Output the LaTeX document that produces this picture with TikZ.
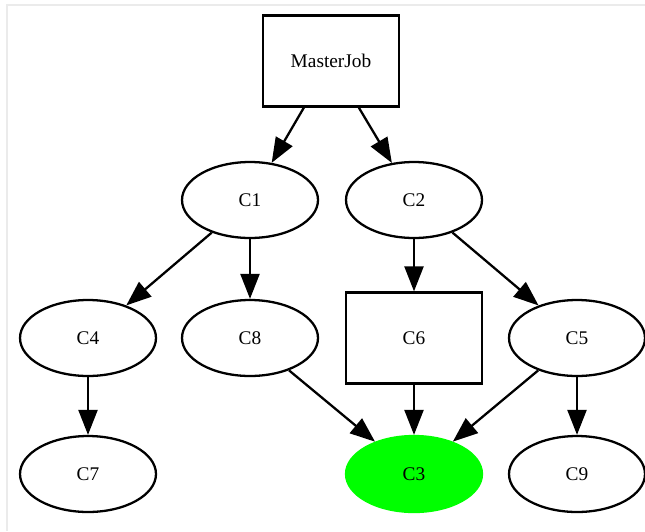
\documentclass[tikz,border=0pt]{standalone}
\usepackage{fontspec}
\setmainfont{Liberation Serif}
\usetikzlibrary{positioning,shapes.geometric,arrows.meta}

\begin{document}
\begin{tikzpicture}[x=0.02cm,y=-0.02cm,
  job/.style={draw,line width=1.3pt,ellipse,minimum width=2.72cm,minimum height=1.52cm,inner sep=0pt,font=\fontsize{11}{13}\selectfont},
  jobbox/.style={draw,line width=1.3pt,rectangle,minimum width=2.72cm,minimum height=1.82cm,inner sep=0pt,font=\fontsize{11}{13}\selectfont},
  dep/.style={line width=1.3pt,-{Triangle[length=0.5cm,width=0.38cm]}}]
\useasboundingbox (0,0) rectangle (645,531);
\draw[black!8,line width=1pt] (7,531)--(7,5)--(645,5);
\node[jobbox] (master) at (331,61) {MasterJob};
\node[job] (c1) at (250,200) {C1};
\node[job] (c2) at (414,200) {C2};
\node[job] (c4) at (88,338) {C4};
\node[job] (c8) at (250,338) {C8};
\node[jobbox] (c6) at (414,338) {C6};
\node[job] (c5) at (577,338) {C5};
\node[job] (c7) at (88,474) {C7};
\node[job,draw=green,fill=green] (c3) at (414,474) {C3};
\node[job] (c9) at (577,474) {C9};
\draw[dep] (master)--(c1);
\draw[dep] (master)--(c2);
\draw[dep] (c1)--(c4);
\draw[dep] (c1)--(c8);
\draw[dep] (c2)--(c6);
\draw[dep] (c2)--(c5);
\draw[dep] (c4)--(c7);
\draw[dep] (c8)--(c3);
\draw[dep] (c6)--(c3);
\draw[dep] (c5)--(c3);
\draw[dep] (c5)--(c9);
\end{tikzpicture}
\end{document}
